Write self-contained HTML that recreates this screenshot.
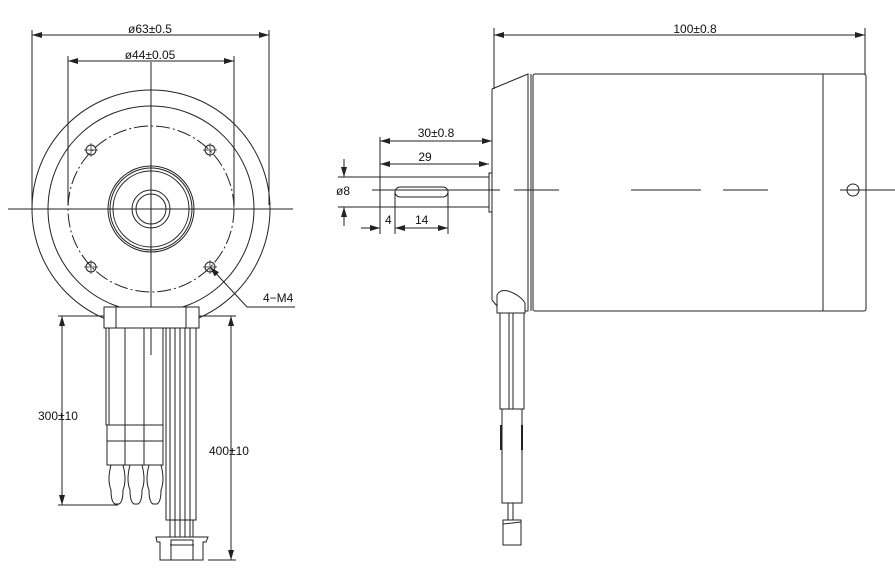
<!DOCTYPE html><html><head><style>body{margin:0;background:#fff}svg{display:block}text{font-family:"Liberation Sans",sans-serif;font-size:12px;fill:#111;stroke:none}</style></head><body>
<svg width="895" height="575" viewBox="0 0 895 575" fill="none" stroke="#222" stroke-width="1">
<defs><marker id="a" viewBox="0 0 10 6" refX="10" refY="3" markerWidth="10" markerHeight="6" orient="auto-start-reverse"><path d="M0,0L10,3L0,6z" fill="#222" stroke="none"/></marker></defs>
<line x1="8" y1="209" x2="293" y2="209"/><line x1="151" y1="62" x2="151" y2="355"/>
<circle cx="151" cy="209" r="119"/><circle cx="151" cy="209" r="103"/>
<circle cx="151" cy="209" r="83" stroke-dasharray="14,3,2,3"/>
<circle cx="151" cy="209" r="43"/><circle cx="151" cy="209" r="41"/><circle cx="151" cy="209" r="38"/>
<circle cx="151" cy="209" r="19"/><circle cx="151" cy="209" r="15"/>
<g><circle cx="91" cy="150" r="5"/><circle cx="210" cy="150" r="5"/><circle cx="91" cy="267" r="5"/><circle cx="210" cy="267" r="5"/>
<path d="M84,150h14M91,143v14M203,150h14M210,143v14M84,267h14M91,260v14M203,267h14M210,260v14" stroke-width="0.7"/></g>
<line x1="32" y1="30" x2="32" y2="205"/><line x1="269" y1="30" x2="269" y2="205"/>
<line x1="32" y1="35" x2="269" y2="35" marker-start="url(#a)" marker-end="url(#a)"/>
<line x1="68" y1="56" x2="68" y2="205"/><line x1="234" y1="56" x2="234" y2="205"/>
<line x1="68" y1="61" x2="234" y2="61" marker-start="url(#a)" marker-end="url(#a)"/>
<text x="150" y="33" text-anchor="middle">ø63±0.5</text><text x="150" y="59" text-anchor="middle">ø44±0.05</text>
<polyline points="210,267 247,307 295,307" marker-start="url(#a)"/>
<text x="263" y="302">4−M4</text>
<rect x="104" y="307" width="95" height="21" fill="#fff"/><line x1="116" y1="307" x2="116" y2="328"/><line x1="186" y1="307" x2="186" y2="328"/>
<line x1="58" y1="316" x2="104" y2="316"/><line x1="199" y1="316" x2="236" y2="316"/>
<line x1="62" y1="316" x2="62" y2="505" marker-start="url(#a)" marker-end="url(#a)"/>
<line x1="58" y1="505" x2="118" y2="505"/>
<line x1="231" y1="316" x2="231" y2="560" marker-start="url(#a)" marker-end="url(#a)"/>
<line x1="208" y1="560" x2="236" y2="560"/>
<text x="38" y="420">300±10</text><text x="209" y="455">400±10</text>
<g><rect x="106" y="328" width="57" height="97"/><line x1="109" y1="328" x2="109" y2="425"/><line x1="125" y1="328" x2="125" y2="465"/><line x1="144" y1="328" x2="144" y2="465"/>
<rect x="107" y="425" width="56" height="16"/><rect x="107" y="441" width="56" height="24"/>
<path d="M111,465 q-4,15 0,25 q0,12 4,14 h4 q4,-2 4,-14 q4,-10 0,-25"/>
<path d="M130,465 q-4,15 0,25 q0,12 4,14 h4 q4,-2 4,-14 q4,-10 0,-25"/>
<path d="M149,465 q-4,15 0,25 q0,12 4,14 h4 q4,-2 4,-14 q4,-10 0,-25"/></g>
<g><rect x="166" y="328" width="30" height="192"/><line x1="170" y1="328" x2="170" y2="537"/><line x1="175" y1="328" x2="175" y2="537"/><line x1="180" y1="328" x2="180" y2="537"/><line x1="185" y1="328" x2="185" y2="537"/><line x1="190" y1="328" x2="190" y2="537"/><line x1="193" y1="520" x2="193" y2="537"/>
<path d="M156,537 h52 l-2,5 h-3 v18 h-43 v-18 h-3z"/><rect x="171" y="540" width="22" height="20"/><line x1="170" y1="545" x2="194" y2="545"/></g>
<line x1="494" y1="28" x2="494" y2="89"/><line x1="865" y1="28" x2="865" y2="75"/>
<line x1="494" y1="35" x2="865" y2="35" marker-start="url(#a)" marker-end="url(#a)"/>
<text x="695" y="33" text-anchor="middle">100±0.8</text>
<path d="M492,89 L528,74 V311 H523 M492,89 V300 L497,306"/>
<line x1="531" y1="74" x2="531" y2="311"/>
<rect x="533" y="74" width="333" height="237" rx="2"/><line x1="823" y1="74" x2="823" y2="311"/>
<circle cx="853" cy="190" r="6"/>
<line x1="372" y1="190" x2="895" y2="190" stroke-dasharray="0,50,70,22,45,22"/>
<line x1="372" y1="190" x2="500" y2="190"/>
<rect x="380" y="177" width="109" height="30"/><rect x="489" y="173" width="3" height="39"/>
<rect x="395" y="187" width="53" height="10" rx="5"/>
<line x1="380" y1="137" x2="380" y2="234"/><line x1="492" y1="137" x2="492" y2="173"/>
<line x1="380" y1="141" x2="492" y2="141" marker-start="url(#a)" marker-end="url(#a)"/>
<line x1="380" y1="164" x2="489" y2="164" marker-start="url(#a)" marker-end="url(#a)"/>
<text x="436" y="137" text-anchor="middle">30±0.8</text><text x="425" y="161" text-anchor="middle">29</text>
<line x1="338" y1="177" x2="380" y2="177"/><line x1="338" y1="207" x2="380" y2="207"/>
<line x1="344" y1="159" x2="344" y2="177" marker-end="url(#a)"/><line x1="344" y1="226" x2="344" y2="207" marker-end="url(#a)"/>
<text x="336" y="195">ø8</text>
<line x1="395" y1="192" x2="395" y2="234"/><line x1="448" y1="192" x2="448" y2="234"/>
<line x1="361" y1="228" x2="380" y2="228" marker-end="url(#a)"/>
<line x1="395" y1="228" x2="448" y2="228" marker-start="url(#a)" marker-end="url(#a)"/>
<text x="385" y="224">4</text><text x="415" y="224">14</text>
<path d="M497,313 V295 Q500,289 508,291 Q520,295 525,303 V313 Z" fill="#fff"/>
<rect x="500" y="313" width="24" height="96"/><line x1="509" y1="313" x2="509" y2="409"/><line x1="513" y1="313" x2="513" y2="409"/>
<rect x="502" y="409" width="20" height="94"/><line x1="501" y1="425" x2="501" y2="450" stroke-width="2"/><line x1="522" y1="425" x2="522" y2="450" stroke-width="2"/>
<line x1="508" y1="503" x2="508" y2="520"/><line x1="513" y1="503" x2="513" y2="520"/>
<rect x="503" y="520" width="18" height="25"/><line x1="503" y1="524" x2="521" y2="522"/>
</svg></body></html>
